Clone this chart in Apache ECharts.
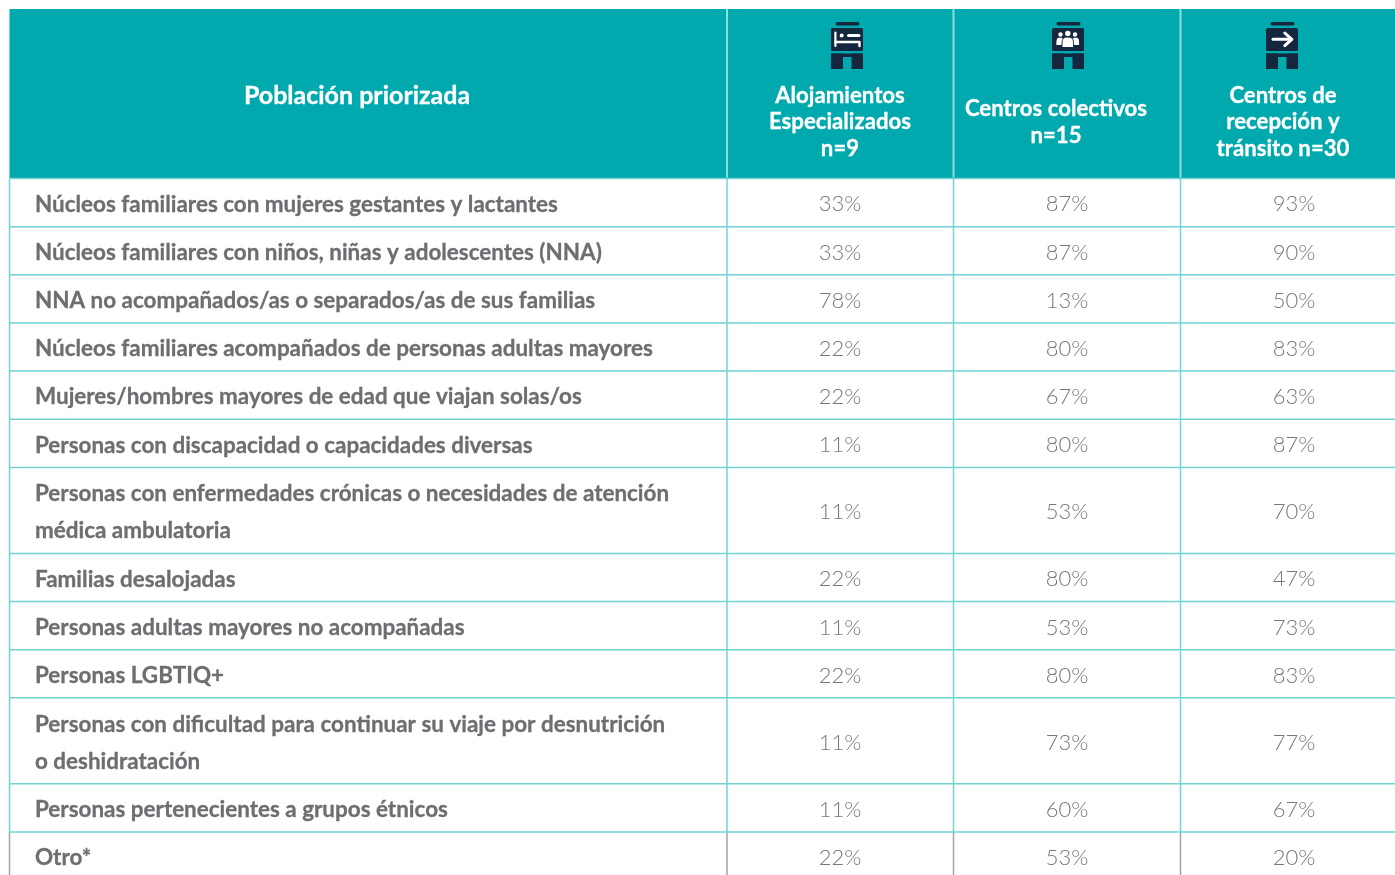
<!DOCTYPE html>
<html>
<head>
<meta charset="utf-8">
<title>Población priorizada</title>
<script src="https://cdn.jsdelivr.net/npm/echarts@6/dist/echarts.min.js"></script>
<style>
html, body { margin: 0; padding: 0; background: #fff; overflow: hidden; }
#chart { width: 1395px; height: 875px; }
</style>
</head>
<body>
<div id="chart"></div>
<script>
const headerTitle = ['Población priorizada']
const colAlojamientos = ['Alojamientos', 'Especializados', 'n=9']
const colColectivos = ['Centros colectivos', 'n=15']
const colRecepcion = ['Centros de', 'recepción y', 'tránsito n=30']

const categories = [
    ['Núcleos familiares con mujeres gestantes y lactantes'],
    ['Núcleos familiares con niños, niñas y adolescentes (NNA)'],
    ['NNA no acompañados/as o separados/as de sus familias'],
    ['Núcleos familiares acompañados de personas adultas mayores'],
    ['Mujeres/hombres mayores de edad que viajan solas/os'],
    ['Personas con discapacidad o capacidades diversas'],
    ['Personas con enfermedades crónicas o necesidades de atención', 'médica ambulatoria'],
    ['Familias desalojadas'],
    ['Personas adultas mayores no acompañadas'],
    ['Personas LGBTIQ+'],
    ['Personas con dificultad para continuar su viaje por desnutrición', 'o deshidratación'],
    ['Personas pertenecientes a grupos étnicos'],
    ['Otro*']
]
const alojamientos = [33, 33, 78, 22, 22, 11, 11, 22, 11, 22, 11, 11, 22]
const colectivos = [87, 87, 13, 80, 67, 80, 53, 80, 53, 80, 73, 60, 53]
const recepcion = [93, 90, 50, 83, 63, 87, 70, 47, 73, 83, 77, 67, 20]

// layout of the table, in axis units (the axes run 1:1 with the picture)
const edges = [9.5, 727, 953.5, 1180.5, 1395]
const headTop = 9
const headBottom = 178.5
const rowH = 48.15
const rowH2 = 86
const labelX = 35
const valueX = [840, 1067, 1294]

const FONT = 'Lato, "Noto Sans", sans-serif'
const TEAL = '#00a9ad'
const LINE = '#72d3d3'
const HEAD_LINE = '#8edcdc'
const GRAY_LINE = '#a3a3a3'
const NAVY = '#14273f'
const LABEL_SIZE = 22.45
const HEAD_SIZE = 22.2
const TITLE_SIZE = 25
const VALUE_SIZE = 22

// row tops, cumulative from the number of text lines in each row
const rowTops = []
categories.reduce((top, lines) => {
    rowTops.push(top)
    return top + (lines.length > 1 ? rowH2 : rowH)
}, headBottom)

function rowBottom(i) {
    return rowTops[i] + (categories[i].length > 1 ? rowH2 : rowH)
}

function line(api, x1, y1, x2, y2, stroke, width) {
    const a = api.coord([x1, y1])
    const b = api.coord([x2, y2])
    return {
        type: 'line',
        shape: { x1: a[0], y1: a[1], x2: b[0], y2: b[1] },
        style: { stroke, lineWidth: width }
    }
}

function label(api, str, x, y, size, weight, fill, align) {
    const p = api.coord([x, y])
    return {
        type: 'text',
        style: {
            text: str, x: p[0], y: p[1], fill, align, verticalAlign: 'middle',
            fontFamily: FONT, fontSize: size, fontWeight: weight,
            stroke: weight === 700 ? fill : null, lineWidth: weight === 700 ? 0.3 : 0
        }
    }
}

const headers = [
    { lines: headerTitle, x: 357, y: 95.6, step: 0, size: TITLE_SIZE },
    { lines: colAlojamientos, x: 840, y: 95.5, step: 26.6, size: HEAD_SIZE },
    { lines: colColectivos, x: 1056, y: 108.5, step: 27, size: HEAD_SIZE },
    { lines: colRecepcion, x: 1283, y: 95.5, step: 26.6, size: HEAD_SIZE }
]

function renderHeader(params, api) {
    const tl = api.coord([edges[0], headTop])
    const br = api.coord([edges[4], headBottom])
    const children = [{
        type: 'rect',
        shape: { x: tl[0], y: tl[1], width: br[0] - tl[0], height: br[1] - tl[1] },
        style: { fill: TEAL }
    }]
    for (let i = 1; i < 4; i++) {
        children.push(line(api, edges[i], headTop, edges[i], headBottom - 1, HEAD_LINE, 2))
    }
    headers.forEach(h => {
        h.lines.forEach((t, i) => {
            children.push(label(api, t, h.x, h.y + i * h.step, h.size, 700, '#ffffff', 'center'))
        })
    })
    return { type: 'group', children }
}

function renderRow(params, api) {
    const i = params.dataIndex
    const top = rowTops[i]
    const bottom = rowBottom(i)
    const isLast = i === categories.length - 1
    const children = []
    edges.slice(0, 4).forEach(x => {
        children.push(line(api, x, top, x, bottom, isLast ? GRAY_LINE : LINE, 1.5))
    })
    children.push(line(api, edges[0], top, edges[4], top, LINE, 1.5))
    const rows = categories[i]
    const mid = (top + bottom) / 2
    rows.forEach((t, k) => {
        const y = mid + 2 + (k - (rows.length - 1) / 2) * 37
        children.push(label(api, t, labelX, y, LABEL_SIZE, 700, '#6d6e71', 'left'))
    })
    return { type: 'group', children }
}

function renderValue(col) {
    return function (params, api) {
        const i = params.dataIndex
        const mid = (rowTops[i] + rowBottom(i)) / 2
        return label(api, api.value(0) + '%', valueX[col], mid + 1.8, VALUE_SIZE, 300, '#77787b', 'center')
    }
}

// building icon, 32 x 47 units, with a different glyph in the upper panel
function renderIcon(params, api) {
    const left = [831, 1052, 1266][params.dataIndex]
    const top = 22
    const P = (x, y) => api.coord([left + x, top + y])
    const rect = (x, y, w, h, fill, r) => {
        const p = P(x, y)
        return { type: 'rect', shape: { x: p[0], y: p[1], width: w, height: h, r: r || 0 }, style: { fill } }
    }
    const poly = (pts, width) => ({
        type: 'polyline',
        shape: { points: pts.map(q => P(q[0], q[1])) },
        style: { stroke: '#fff', lineWidth: width, fill: null, lineCap: 'round', lineJoin: 'round' }
    })
    const dot = (x, y, r) => {
        const p = P(x, y)
        return { type: 'circle', shape: { cx: p[0], cy: p[1], r }, style: { fill: '#fff' } }
    }
    const body = [
        rect(4.5, 0, 24, 3.6, NAVY, 1.8),
        rect(0, 6, 32, 23, NAVY, 1.5),
        rect(0, 31.5, 12, 15.5, NAVY),
        rect(20.5, 31.5, 11.5, 15.5, NAVY),
        rect(0, 31.5, 32, 3.5, NAVY)
    ]
    let glyph
    if (params.dataIndex === 0) {
        glyph = [
            poly([[4.4, 10.5], [4.4, 24]], 2.2),
            poly([[4.4, 20], [28.5, 20], [28.5, 24]], 2.4),
            dot(10.7, 13.5, 2),
            poly([[17.5, 13.5], [28, 13.5]], 3)
        ]
    } else if (params.dataIndex === 1) {
        const hump = (cx, base, w, peak, outline) => {
            const a = P(cx - w, base)
            const b = P(cx + w, base)
            const c = P(cx, peak)
            const d = P(cx, peak - (base - peak) * 0.3)
            return {
                type: 'path',
                shape: { pathData: `M${a[0]} ${a[1]}C${a[0]} ${c[1]} ${a[0]} ${d[1]} ${c[0]} ${d[1]}C${b[0]} ${d[1]} ${b[0]} ${c[1]} ${b[0]} ${b[1]}Z` },
                style: { fill: '#fff', stroke: outline ? NAVY : null, lineWidth: outline ? 1 : 0 }
            }
        }
        glyph = [
            dot(8.5, 12.5, 2.2), dot(15.8, 11.5, 2.7), dot(23, 12.5, 2.2),
            hump(8, 23, 3.6, 17.5), hump(23.5, 23, 3.6, 17.5), hump(15.8, 25.5, 5.8, 17.5, true)
        ]
    } else {
        glyph = [
            poly([[7, 17.3], [25.5, 17.3]], 3),
            poly([[18.8, 11], [25.8, 17.3], [18.8, 23.6]], 3)
        ]
    }
    return { type: 'group', children: body.concat(glyph) }
}

const chart = echarts.init(document.getElementById('chart'))
const rowIndex = categories.map((c, i) => [i])
chart.setOption({
    animation: false,
    grid: { left: 0, right: 0, top: 0, bottom: 0 },
    xAxis: { type: 'value', min: 0, max: 1395, show: false },
    yAxis: { type: 'value', min: 0, max: 875, inverse: true, show: false },
    series: [
        { type: 'custom', name: 'encabezado', silent: true, clip: true, data: [[0]], renderItem: renderHeader },
        { type: 'custom', name: 'filas', silent: true, clip: true, data: rowIndex, renderItem: renderRow },
        { type: 'custom', name: 'iconos', silent: true, clip: true, data: [[0], [1], [2]], renderItem: renderIcon },
        { type: 'custom', name: 'Alojamientos Especializados', silent: true, clip: true, data: alojamientos.map(v => [v]), renderItem: renderValue(0) },
        { type: 'custom', name: 'Centros colectivos', silent: true, clip: true, data: colectivos.map(v => [v]), renderItem: renderValue(1) },
        { type: 'custom', name: 'Centros de recepción y tránsito', silent: true, clip: true, data: recepcion.map(v => [v]), renderItem: renderValue(2) }
    ]
})
</script>
</body>
</html>
